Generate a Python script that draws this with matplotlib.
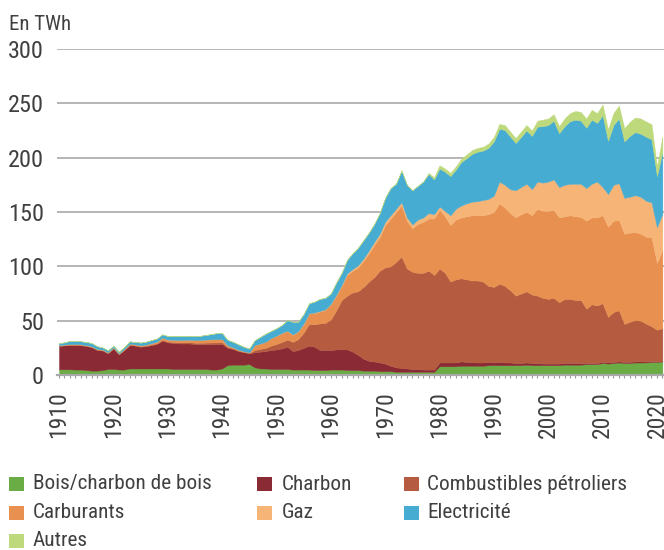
import matplotlib
matplotlib.use("Agg")
import matplotlib.pyplot as plt
from matplotlib import font_manager
from matplotlib.patches import Rectangle
from matplotlib.ticker import MultipleLocator

# ---- data (TWh), one value per year 1910..2021 ----
years = list(range(1910, 2022))

bois = [
    5.2, 5.2, 5.2, 5.0, 5.0, 4.5, 4.0, 4.0, 4.5, 5.5,
    5.5, 5.0, 5.0, 6.0, 6.0, 6.0, 6.0, 6.0, 6.0, 6.0,
    6.0, 5.5, 5.5, 5.5, 5.5, 5.5, 5.5, 5.5, 5.0, 5.0,
    6.0, 9.0, 9.5, 9.5, 9.5, 10.0, 7.0, 6.0, 6.0, 5.5,
    5.5, 5.5, 5.5, 5.0, 5.0, 5.0, 5.0, 4.5, 4.5, 4.5,
    5.0, 5.0, 5.0, 4.5, 4.5, 4.5, 4.0, 4.0, 4.0, 3.5,
    3.5, 3.5, 3.0, 3.0, 3.0, 3.0, 3.0, 3.0, 3.0, 3.0,
    8.0, 8.0, 8.0, 8.0, 8.5, 8.5, 8.5, 8.5, 8.5, 9.0,
    9.0, 9.0, 9.0, 9.0, 9.0, 9.0, 9.5, 9.0, 9.0, 9.0,
    9.0, 9.0, 9.0, 9.5, 9.5, 9.5, 9.5, 10.0, 10.0, 10.0,
    11.0, 10.5, 11.0, 11.5, 11.0, 11.0, 11.5, 11.5, 11.5, 12.0,
    12.0, 12.5,
]
charbon = [
    21.5, 22.0, 22.3, 22.6, 22.3, 22.2, 21.5, 19.0, 18.0, 14.5,
    19.0, 14.0, 18.0, 21.6, 21.0, 20.0, 20.5, 21.5, 22.5, 25.6,
    24.0, 24.0, 23.5, 23.5, 23.5, 23.0, 23.0, 23.0, 23.5, 23.5,
    22.5, 16.0, 14.5, 12.5, 11.5, 10.0, 14.0, 15.5, 16.0, 17.5,
    18.0, 19.0, 20.5, 17.0, 18.0, 20.0, 22.0, 21.5, 18.5, 18.5,
    18.0, 18.5, 19.0, 19.0, 17.0, 14.0, 11.0, 9.0, 8.5, 8.0,
    7.0, 5.0, 4.0, 3.5, 3.0, 2.5, 2.5, 2.0, 2.0, 2.0,
    3.5, 3.5, 3.5, 3.5, 4.0, 3.5, 3.5, 3.0, 3.0, 3.0,
    2.5, 3.0, 2.5, 2.5, 2.0, 2.0, 2.0, 2.0, 2.0, 1.5,
    1.5, 1.5, 1.5, 1.5, 1.5, 1.5, 1.5, 1.0, 1.0, 1.0,
    1.0, 1.0, 1.0, 1.0, 1.0, 1.0, 1.0, 1.0, 0.8, 0.8,
    0.6, 0.6,
]
petrole = [
    0.3, 0.3, 0.3, 0.3, 0.3, 0.3, 0.3, 0.3, 0.3, 0.3,
    0.3, 0.3, 0.3, 0.3, 0.4, 0.4, 0.5, 0.6, 0.7, 0.8,
    0.8, 0.9, 1.0, 1.0, 1.1, 1.2, 1.2, 1.3, 1.4, 1.5,
    1.5, 0.8, 0.5, 0.4, 0.3, 0.3, 2.0, 2.5, 3.0, 4.0,
    5.0, 6.0, 6.5, 8.5, 10.0, 14.0, 20.0, 20.5, 24.5, 25.0,
    28.0, 36.0, 45.0, 49.5, 54.5, 58.5, 66.0, 73.0, 77.5, 84.5,
    88.5, 91.5, 97.0, 102.5, 92.0, 89.5, 88.5, 89.0, 91.0, 87.0,
    86.5, 82.5, 74.5, 76.5, 76.5, 76.0, 75.0, 75.5, 74.5, 70.0,
    69.5, 72.0, 70.5, 66.5, 62.0, 64.0, 65.5, 63.0, 62.0, 60.5,
    59.5, 60.5, 56.5, 59.0, 59.0, 58.0, 58.0, 50.0, 54.0, 53.0,
    54.0, 42.0, 46.0, 47.0, 35.0, 37.0, 38.0, 37.5, 35.0, 32.0,
    29.0, 30.0,
]
carburants = [
    0.5, 0.5, 0.6, 0.6, 0.6, 0.6, 0.6, 0.6, 0.6, 0.6,
    0.6, 0.6, 0.7, 0.8, 0.8, 0.9, 1.0, 1.2, 1.5, 2.0,
    1.8, 2.0, 2.2, 2.3, 2.4, 2.5, 2.6, 2.8, 2.9, 3.0,
    3.0, 1.5, 1.0, 0.8, 0.6, 0.5, 4.5, 5.0, 5.5, 7.0,
    7.5, 8.0, 8.0, 6.5, 7.0, 8.0, 9.5, 10.5, 11.0, 12.0,
    14.0, 13.5, 13.0, 19.0, 20.0, 22.0, 24.0, 26.0, 30.0, 31.0,
    39.0, 44.0, 46.0, 47.0, 44.0, 40.0, 45.0, 47.0, 48.0, 52.0,
    54.0, 52.0, 52.0, 55.0, 56.0, 58.0, 60.0, 60.0, 61.0, 66.0,
    69.0, 74.0, 72.0, 71.0, 72.0, 73.0, 73.0, 73.0, 80.0, 80.0,
    81.0, 81.0, 78.0, 76.0, 77.0, 77.0, 76.5, 81.0, 80.0, 81.0,
    81.0, 83.0, 84.0, 83.0, 83.0, 82.0, 81.0, 80.0, 80.0, 82.0,
    61.4, 72.0,
]
gaz = [
    0, 0, 0, 0, 0, 0, 0, 0, 0, 0,
    0, 0, 0, 0, 0, 0, 0, 0, 0, 0,
    0, 0, 0, 0, 0, 0, 0, 0, 0, 0,
    0, 0, 0, 0, 0, 0, 0, 0, 0, 0,
    0.2, 0.3, 0.3, 0.3, 0.3, 0.4, 0.4, 0.5, 0.5, 0.5,
    0.6, 0.8, 1.0, 1.5, 1.5, 2.0, 2.0, 2.5, 2.5, 3.0,
    3.0, 3.0, 3.0, 3.0, 3.0, 3.5, 4.0, 4.0, 5.0, 4.0,
    3.0, 5.0, 9.0, 10.0, 11.0, 12.0, 12.5, 13.0, 14.0, 14.0,
    15.0, 20.0, 21.0, 22.0, 25.0, 25.0, 26.0, 24.0, 25.0, 26.0,
    27.0, 28.0, 28.0, 29.0, 29.0, 30.0, 30.5, 30.0, 31.0, 33.0,
    26.0, 30.0, 33.0, 34.0, 33.0, 33.0, 34.0, 34.0, 33.0, 32.0,
    33.0, 33.0,
]
electricite = [
    1.9, 2.0, 3.0, 3.0, 2.8, 2.8, 3.0, 2.6, 2.0, 1.8,
    1.5, 1.5, 1.8, 2.2, 2.2, 2.5, 2.6, 2.8, 2.8, 3.0,
    3.2, 3.4, 3.5, 3.5, 3.6, 3.6, 3.8, 4.2, 4.8, 5.5,
    5.5, 5.0, 5.0, 5.0, 4.0, 3.5, 4.5, 6.0, 7.5, 6.5,
    6.8, 7.2, 9.7, 11.7, 8.7, 8.6, 9.1, 10.0, 11.0, 10.5,
    9.4, 11.2, 11.0, 12.5, 14.5, 16.0, 17.0, 16.5, 16.5, 19.0,
    22.0, 25.0, 23.0, 29.0, 30.0, 31.5, 31.0, 33.0, 36.0, 32.0,
    35.0, 36.0, 36.0, 36.0, 40.0, 41.5, 44.0, 45.5, 45.5, 47.0,
    50.0, 48.5, 50.5, 48.5, 43.5, 46.0, 49.0, 49.0, 50.5, 52.0,
    52.0, 54.0, 49.5, 54.0, 57.5, 59.0, 58.0, 55.5, 59.0, 54.0,
    66.0, 49.0, 55.0, 59.5, 52.0, 56.0, 58.0, 58.0, 59.0, 58.0,
    47.0, 57.0,
]
autres = [
    0, 0, 0, 0, 0, 0, 0, 0, 0, 0,
    0, 0, 0, 0, 0, 0, 0, 0, 0, 0,
    0, 0, 0, 0, 0, 0, 0, 0, 0, 0,
    0, 0, 0, 0, 0, 0, 0, 0, 0, 0,
    0, 0, 0, 0, 0, 0, 0, 0, 0, 0,
    0, 0, 0, 0, 0, 0, 0, 0, 0, 0,
    0, 0, 0, 0, 0, 0, 0, 0, 1.0, 2.0,
    3.0, 3.0, 3.0, 3.0, 3.0, 3.5, 3.5, 3.5, 3.5, 4.0,
    4.0, 4.5, 4.5, 4.5, 4.5, 5.0, 5.0, 5.0, 5.5, 6.0,
    6.0, 6.0, 6.5, 7.0, 7.5, 8.0, 8.0, 8.5, 9.0, 9.0,
    10.0, 10.5, 11.0, 12.0, 12.0, 13.0, 13.5, 14.0, 14.0, 14.0,
    9.0, 14.0,
]

labels = ["Bois/charbon de bois", "Charbon", "Combustibles pétroliers",
          "Carburants", "Gaz", "Electricité", "Autres"]
colors = ["#6aad45", "#8a2a35", "#b55b3f", "#e8904f", "#f6b577",
          "#47acd2", "#bdd97c"]
series = [bois, charbon, petrole, carburants, gaz, electricite, autres]
for s in series:
    assert len(s) == len(years)


def pick_font(names):
    for n in names:
        try:
            font_manager.findfont(n, fallback_to_default=False)
            return n
        except ValueError:
            pass
    return "DejaVu Sans"


FONT = pick_font(["Liberation Sans Narrow", "Roboto Condensed", "Liberation Sans"])
k = 1.0 if "Narrow" in FONT or "Condensed" in FONT else 0.82
plt.rcParams["font.family"] = [FONT, "DejaVu Sans"]
TXT = "#404040"

W, H = 664, 550
fig = plt.figure(figsize=(W / 100, H / 100), dpi=100)
ax = fig.add_axes([57 / W, 1 - 375 / H, (W - 57) / W, (375 - 49) / H])

ax.stackplot(years, *series, colors=colors, labels=labels,
             linewidth=0.3, edgecolor="face")

ax.set_xlim(1909.63, 2021.3)
ax.set_ylim(0, 300)
ax.set_yticks(range(0, 301, 50))
ax.yaxis.grid(True, color="#a9a9a9", linewidth=1.2)
ax.set_axisbelow(True)
for side in ("top", "right", "left"):
    ax.spines[side].set_visible(False)
ax.spines["bottom"].set_color("#a9a9a9")
ax.spines["bottom"].set_linewidth(1.6)

ax.xaxis.set_major_locator(MultipleLocator(10))
ax.xaxis.set_minor_locator(MultipleLocator(1))
ax.tick_params(axis="x", which="both", direction="out", length=2.5,
               width=0.8, color="#9a9a9a")
ax.tick_params(axis="x", which="major", labelsize=17 * k, labelcolor=TXT,
               labelrotation=90, pad=9)
ax.tick_params(axis="y", length=0, labelsize=17.5 * k, labelcolor=TXT, pad=9.5)

fig.text(9 / W, 1 - 24.5 / H, "En TWh", fontsize=15 * k, color=TXT,
         ha="left", va="center")

# legend, laid out in three columns like the original
patch_x = [9, 257, 404]
text_x = [33, 282, 427]
row_y = [484, 513, 541]
for i, (lab, col) in enumerate(zip(labels, colors)):
    r, c = divmod(i, 3)
    fig.patches.append(Rectangle((patch_x[c] / W, 1 - (row_y[r] + 7) / H),
                                 15 / W, 14 / H, facecolor=col,
                                 edgecolor="none", transform=fig.transFigure))
    fig.text(text_x[c] / W, 1 - row_y[r] / H, lab, fontsize=15.3 * k,
             color=TXT, ha="left", va="center")

fig.savefig("out.png", dpi=100)
